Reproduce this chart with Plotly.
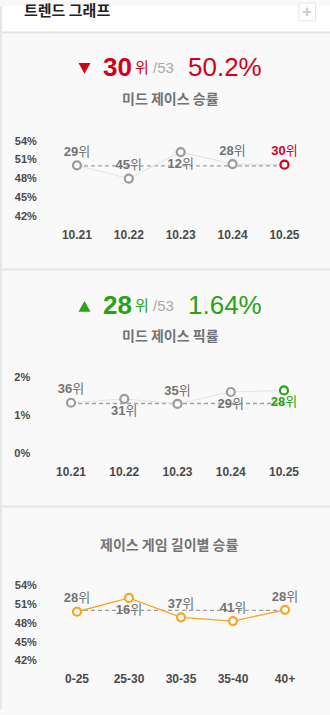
import plotly.graph_objects as go

W, H = 330, 715

# ---- data ----
patches = ["10.21", "10.22", "10.23", "10.24", "10.25"]
win_rate = [50.1, 48.0, 52.2, 50.3, 50.2]
win_rank = [29, 45, 12, 28, 30]
win_avg = 50.0

pick_rate = [1.32, 1.42, 1.29, 1.60, 1.64]
pick_rank = [36, 31, 35, 29, 28]
pick_avg = 1.30

length_bins = ["0-25", "25-30", "30-35", "35-40", "40+"]
length_rate = [49.8, 52.0, 48.9, 48.3, 50.1]
length_rank = [28, 16, 37, 41, 28]
length_avg = 50.0

total_champs = 53
pct_ticks = [42, 45, 48, 51, 54]
pick_ticks = [0, 1, 2]

# ---- styling ----
RED = "#d0021b"
GREEN = "#27a315"
ORANGE = "#f5a623"
GRAY_MARK = "#9b9b9b"
LABEL_GRAY = "#737373"
TICK_COLOR = "#4a4a4a"
BG = "#f9f9f9"
KR = "Noto Sans CJK KR"
LAT = "Liberation Sans"
MIX = "Liberation Sans, Noto Sans CJK KR"


def fx(x):
    return x / W


def fy(y):
    return 1 - y / H


fig = go.Figure()

# axis placement in pixels: (left, right, top, bottom)
panels = [
    dict(x0=51.0, x1=310.4, y0=137.0, y1=214.0),
    dict(x0=44.4, x1=310.6, y0=377.0, y1=455.0),
    dict(x0=51.0, x1=311.0, y0=589.3, y1=665.7),
]


def add_series(idx, cats, vals, ranks, avg, line_color, line_width,
               mark_colors, label_colors, label_pos):
    xa = "x" if idx == 0 else f"x{idx + 1}"
    ya = "y" if idx == 0 else f"y{idx + 1}"
    xs = list(range(len(cats)))
    # reference (average) line
    fig.add_trace(go.Scatter(
        x=[xs[0], xs[-1]], y=[avg, avg], mode="lines",
        line=dict(color="#a0a0a0", width=1.3, dash="4px,3px"),
        xaxis=xa, yaxis=ya, hoverinfo="skip", showlegend=False))
    # trend line
    fig.add_trace(go.Scatter(
        x=xs, y=vals, mode="lines",
        line=dict(color=line_color, width=line_width),
        xaxis=xa, yaxis=ya, hoverinfo="skip", showlegend=False))
    # markers with rank labels
    fig.add_trace(go.Scatter(
        x=xs, y=vals, mode="markers+text",
        marker=dict(size=8, color="#fbfbfb",
                    line=dict(color=mark_colors, width=2.2)),
        text=[f"<b>{r}</b>위" for r in ranks],
        textposition=label_pos,
        textfont=dict(family=MIX, size=13, color=label_colors),
        cliponaxis=False,
        xaxis=xa, yaxis=ya, hoverinfo="skip", showlegend=False))


n = len(patches)
add_series(0, patches, win_rate, win_rank, win_avg, "#e2e2e2", 1,
           [GRAY_MARK] * (n - 1) + [RED],
           [LABEL_GRAY] * (n - 1) + [RED],
           ["top center", "top center", "bottom center", "top center", "top center"])
add_series(1, patches, pick_rate, pick_rank, pick_avg, "#e2e2e2", 1,
           [GRAY_MARK] * (n - 1) + [GREEN],
           [LABEL_GRAY] * (n - 1) + [GREEN],
           ["top center", "bottom center", "top center", "bottom center", "bottom center"])
add_series(2, length_bins, length_rate, length_rank, length_avg, ORANGE, 1.4,
           [ORANGE] * n,
           [LABEL_GRAY] * n,
           ["top center", "bottom center", "top center", "top center", "top center"])

layout_axes = {}
ycfgs = [
    (pct_ticks, [f"{t}%" for t in pct_ticks], [42, 54]),
    (pick_ticks, [f"{t}%" for t in pick_ticks], [0, 2]),
    (pct_ticks, [f"{t}%" for t in pct_ticks], [42, 54]),
]
xcats = [patches, patches, length_bins]
for i, p in enumerate(panels):
    sx = "xaxis" if i == 0 else f"xaxis{i + 1}"
    sy = "yaxis" if i == 0 else f"yaxis{i + 1}"
    anchor_x = "x" if i == 0 else f"x{i + 1}"
    anchor_y = "y" if i == 0 else f"y{i + 1}"
    layout_axes[sx] = dict(
        domain=[fx(p["x0"]), fx(p["x1"])], anchor=anchor_y,
        range=[-0.5, len(xcats[i]) - 0.5],
        tickmode="array", tickvals=list(range(len(xcats[i]))), ticktext=xcats[i],
        ticks="outside", ticklen=7, tickcolor="rgba(0,0,0,0)",
        tickfont=dict(family=LAT, size=12, color="#4a4a4a", weight="bold"),
        showgrid=False, zeroline=False, showline=False, fixedrange=True)
    tv, tt, rng = ycfgs[i]
    layout_axes[sy] = dict(
        domain=[fy(p["y1"]), fy(p["y0"])], anchor=anchor_x,
        range=rng, tickmode="array", tickvals=tv, ticktext=tt,
        ticks="outside", ticklen=11, tickcolor="rgba(0,0,0,0)",
        tickfont=dict(family=LAT, size=11, color=TICK_COLOR, weight="bold"),
        showgrid=False, zeroline=False, showline=False, fixedrange=True)

shapes = [
    # white title bar
    dict(type="rect", xref="paper", yref="paper", x0=0, x1=1, y0=fy(27), y1=1,
         fillcolor="white", line=dict(width=0), layer="below"),
    # separators
    dict(type="line", xref="paper", yref="paper", x0=0, x1=1, y0=fy(27), y1=fy(27),
         line=dict(color="#e3e3e3", width=2)),
    dict(type="line", xref="paper", yref="paper", x0=0, x1=1, y0=fy(268), y1=fy(268),
         line=dict(color="#e6e6e6", width=2)),
    dict(type="line", xref="paper", yref="paper", x0=0, x1=1, y0=fy(509), y1=fy(509),
         line=dict(color="#e6e6e6", width=2)),
    # left border
    dict(type="line", xref="paper", yref="paper", x0=fx(1), x1=fx(1), y0=0, y1=1,
         line=dict(color="#e6e6e6", width=2)),
    # "+" button box
    dict(type="rect", xref="paper", yref="paper", x0=fx(299), x1=fx(315.5),
         y0=fy(15), y1=fy(-3), fillcolor="white",
         line=dict(color="#e6e6e6", width=1)),
    # rank change triangles
    dict(type="path", xref="paper", yref="paper",
         path=f"M {fx(78.5)} {fy(58)} L {fx(90.5)} {fy(58)} L {fx(84.5)} {fy(69)} Z",
         fillcolor=RED, line=dict(width=0)),
    dict(type="path", xref="paper", yref="paper",
         path=f"M {fx(78.5)} {fy(311)} L {fx(90.5)} {fy(311)} L {fx(84.5)} {fy(300)} Z",
         fillcolor=GREEN, line=dict(width=0)),
]


def ann(x, y, text, size, color, family=KR, bold=False, xanchor="left"):
    return dict(xref="paper", yref="paper", x=fx(x), y=fy(y), text=text,
                showarrow=False, xanchor=xanchor, yanchor="middle",
                font=dict(family=family, size=size, color=color,
                          weight="bold" if bold else "normal"))


annotations = [
    ann(22, 4, "트렌드 그래프", 15, "#222222", bold=True),
    ann(307.3, 5.5, "+", 17, "#cccccc", family=LAT, bold=True, xanchor="center"),
    # win rate header
    ann(101, 62.5, f"{win_rank[-1]}", 26, RED, family=LAT, bold=True),
    ann(133, 61.5, "위", 15, RED),
    ann(151, 63, f"/{total_champs}", 15, "#aaaaaa", family=LAT),
    ann(186, 62, f"{win_rate[-1]:.1f}%", 26, RED, family=LAT),
    ann(170, 94, "미드 제이스 승률", 14, LABEL_GRAY, bold=True, xanchor="center"),
    # pick rate header
    ann(101, 304.5, f"{pick_rank[-1]}", 26, GREEN, family=LAT, bold=True),
    ann(133, 303.5, "위", 15, GREEN),
    ann(151, 305, f"/{total_champs}", 15, "#aaaaaa", family=LAT),
    ann(186, 304, f"{pick_rate[-1]:.2f}%", 26, GREEN, family=LAT),
    ann(170, 335, "미드 제이스 픽률", 14, LABEL_GRAY, bold=True, xanchor="center"),
    # game length
    ann(169, 547, "제이스 게임 길이별 승률", 14, LABEL_GRAY, bold=True, xanchor="center"),
]

fig.update_layout(
    width=W, height=H,
    margin=dict(l=0, r=0, t=0, b=0),
    paper_bgcolor=BG, plot_bgcolor="rgba(0,0,0,0)",
    showlegend=False,
    shapes=shapes, annotations=annotations,
    **layout_axes,
)

fig.write_html("out.html", config={"displayModeBar": False})
